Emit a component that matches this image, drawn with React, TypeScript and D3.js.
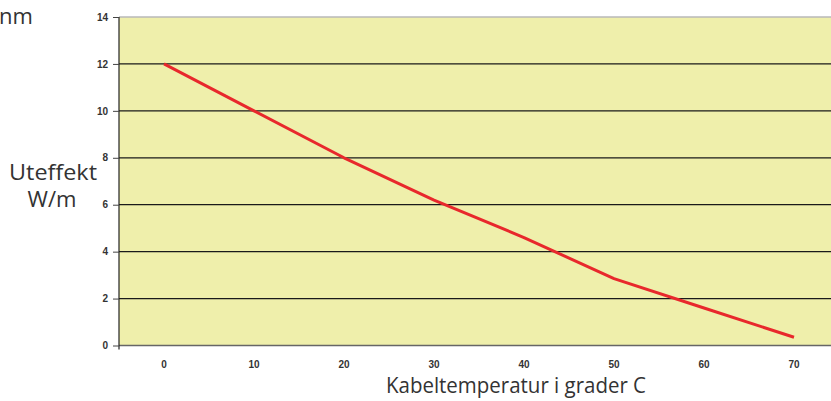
import React, { useEffect, useRef } from 'react';
import * as d3 from 'd3';

const temperatures = ['0', '10', '20', '30', '40', '50', '60', '70'];
const outputValues = [12, 10, 8, 6.2, 4.6, 2.85, 1.6, 0.35];
const yTicks = [0, 2, 4, 6, 8, 10, 12, 14];

const W = 831;
const H = 401;

const App: React.FC = () => {
  const svgRef = useRef<SVGSVGElement>(null);

  useEffect(() => {
    if (!svgRef.current) return;
    const svg = d3.select(svgRef.current);
    svg.selectAll('*').remove();

    const plot = { left: 119, top: 17, bottom: 345.5, right: 839 };

    const x = d3.scaleBand()
      .domain(temperatures)
      .range([plot.left, plot.right])
      .padding(0);

    const y = d3.scaleLinear()
      .domain([0, 14])
      .range([plot.bottom, plot.top]);

    const titleFont = '"Open Sans", sans-serif';

    // "nm" fragment at top left
    svg.append('text')
      .attr('x', -1)
      .attr('y', 24)
      .style('font-family', titleFont)
      .style('font-size', '22px')
      .style('fill', '#333')
      .text('nm');

    // Plot background
    svg.append('rect')
      .attr('x', plot.left)
      .attr('y', plot.top)
      .attr('width', plot.right - plot.left)
      .attr('height', plot.bottom - plot.top)
      .attr('fill', '#EFEFAB');

    // top border
    svg.append('line')
      .attr('x1', plot.left)
      .attr('x2', W)
      .attr('y1', y(14))
      .attr('y2', y(14))
      .style('stroke', '#b8b8b8')
      .style('stroke-width', 1.5);

    // Grid lines
    svg.append('g')
      .selectAll('line')
      .data(yTicks.filter(d => d > 0 && d < 14))
      .enter()
      .append('line')
      .attr('x1', plot.left)
      .attr('x2', W)
      .attr('y1', d => y(d))
      .attr('y2', d => y(d))
      .style('stroke', '#1a1a1a')
      .style('stroke-width', 1.2);

    // bottom axis line
    svg.append('line')
      .attr('x1', plot.left)
      .attr('x2', W)
      .attr('y1', y(0))
      .attr('y2', y(0))
      .style('stroke', '#666')
      .style('stroke-width', 1.5);

    // Y axis
    const yAxis = svg.append('g')
      .attr('class', 'y-axis')
      .attr('transform', `translate(${plot.left},0)`)
      .call(d3.axisLeft(y).tickValues(yTicks).tickSize(6).tickPadding(5));
    yAxis.select('.domain')
      .attr('d', `M0,${plot.top}V${plot.bottom + 4}`)
      .style('stroke', '#222')
      .style('stroke-width', 1.2);
    yAxis.selectAll('.tick line').style('stroke', '#444');
    yAxis.selectAll('text')
      .style('font-family', '"Liberation Sans", Arial, sans-serif')
      .style('font-size', '10px')
      .style('font-weight', 'bold')
      .style('fill', '#333');

    // X tick labels
    svg.append('g')
      .selectAll('text')
      .data(temperatures)
      .enter()
      .append('text')
      .attr('x', d => (x(d) || 0) + x.bandwidth() / 2)
      .attr('y', 368)
      .attr('text-anchor', 'middle')
      .style('font-family', '"Liberation Sans", Arial, sans-serif')
      .style('font-size', '10px')
      .style('font-weight', 'bold')
      .style('fill', '#333')
      .text(d => d);

    // Data line
    const line = d3.line<number>()
      .x((_, i) => (x(temperatures[i]) || 0) + x.bandwidth() / 2)
      .y(d => y(d));

    svg.append('path')
      .datum(outputValues)
      .attr('d', line)
      .attr('fill', 'none')
      .style('stroke', '#E8282C')
      .style('stroke-width', 3)
      .style('stroke-linejoin', 'round');

    // Axis titles
    svg.append('text')
      .attr('x', 53)
      .attr('y', 180)
      .attr('text-anchor', 'middle')
      .attr('textLength', 88)
      .attr('lengthAdjust', 'spacingAndGlyphs')
      .style('font-family', titleFont)
      .style('font-size', '22px')
      .style('fill', '#333')
      .text('Uteffekt');
    svg.append('text')
      .attr('x', 52)
      .attr('y', 207)
      .attr('text-anchor', 'middle')
      .attr('textLength', 49)
      .attr('lengthAdjust', 'spacingAndGlyphs')
      .style('font-family', titleFont)
      .style('font-size', '22px')
      .style('fill', '#333')
      .text('W/m');
    svg.append('text')
      .attr('x', 516)
      .attr('y', 393)
      .attr('text-anchor', 'middle')
      .attr('textLength', 260)
      .attr('lengthAdjust', 'spacingAndGlyphs')
      .style('font-family', titleFont)
      .style('font-size', '22px')
      .style('fill', '#333')
      .text('Kabeltemperatur i grader C');
  }, []);

  return (
    <div style={{ position: 'fixed', left: 0, top: 0, width: W, height: H, background: '#fff' }}>
      <svg ref={svgRef} width={W} height={H} style={{ display: 'block' }} />
    </div>
  );
};

export default App;
